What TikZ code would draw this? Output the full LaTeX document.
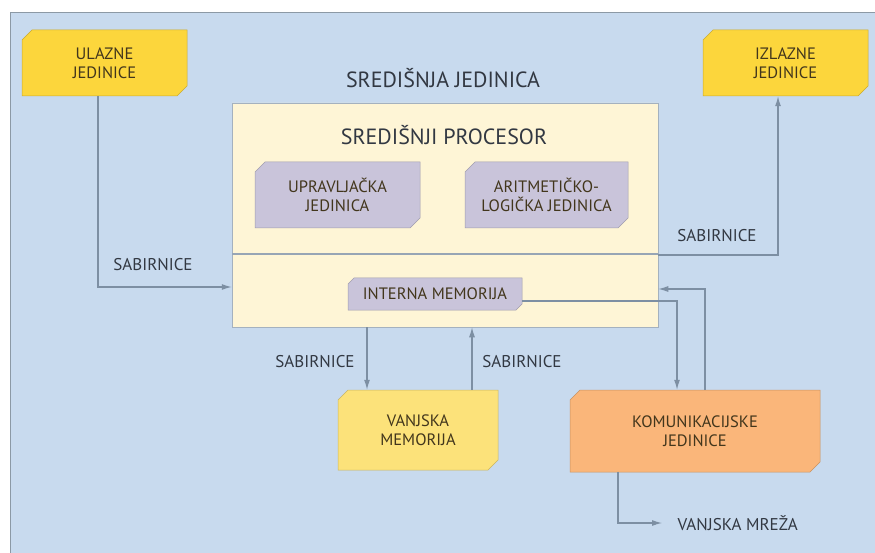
\documentclass[tikz,border=0pt]{standalone}
\usepackage{fontspec}
\setmainfont{PT Sans}
\usetikzlibrary{positioning,shapes.misc,arrows.meta}

\definecolor{bgblue}{RGB}{200,218,238}
\definecolor{bgedge}{RGB}{140,153,165}
\definecolor{ioyellow}{RGB}{252,214,60}
\definecolor{memyellow}{RGB}{252,226,122}
\definecolor{cpucream}{RGB}{254,245,214}
\definecolor{partlilac}{RGB}{201,196,218}
\definecolor{comorange}{RGB}{250,182,122}
\definecolor{busgrey}{RGB}{125,143,163}
\definecolor{labelgrey}{RGB}{50,56,66}
\definecolor{boxtext}{RGB}{66,54,28}

\begin{document}
\begin{tikzpicture}[
    x=1pt, y=-1pt,
    unit/.style={chamfered rectangle, chamfered rectangle corners={north west,south east},
      chamfered rectangle xsep=5pt, chamfered rectangle ysep=5pt,
      draw=#1!80!black, line width=0.5pt, fill=#1, inner sep=0pt,
      align=center, font=\fontsize{16.5}{18.5}\selectfont, text=boxtext},
    buslabel/.style={font=\fontsize{17}{19}\selectfont, text=labelgrey},
    bus/.style={draw=busgrey, line width=1.1pt, -{Latex[length=10pt,width=6pt]}},
    busline/.style={draw=busgrey, line width=1.1pt}
]

% background
\useasboundingbox (0,0) rectangle (875,553);
\fill[bgblue] (10,13) rectangle (875,553);
\draw[bgedge, line width=1pt] (10,553) -- (10,13) -- (875,13);

% input and output units
\node[unit=ioyellow, minimum width=165pt, minimum height=66pt] (ulazne) at (104.5,63) {ULAZNE\\JEDINICE};
\node[unit=ioyellow, minimum width=165pt, minimum height=66pt] (izlazne) at (785.5,63) {IZLAZNE\\JEDINICE};

% central unit
\node[buslabel, font=\fontsize{22}{24}\selectfont] (sredisnja) at (443,78) {SREDIŠNJA JEDINICA};
\node[unit=cpucream, draw=busgrey!70, chamfered rectangle xsep=8pt, chamfered rectangle ysep=8pt,
  minimum width=426pt, minimum height=224pt] (cpu) at (445,215) {};
\node[buslabel, font=\fontsize{22}{24}\selectfont] (procesor) at (444,135) {SREDIŠNJI PROCESOR};
\node[unit=partlilac, minimum width=165pt, minimum height=66pt] (upravljacka) at (337.5,195) {UPRAVLJAČKA\\JEDINICA};
\node[unit=partlilac, minimum width=163pt, minimum height=66pt] (alu) at (546.5,195) {ARITMETIČKO-\\LOGIČKA JEDINICA};
\draw[busline, draw=busgrey!80] (cpu.west |- 0,254) -- (cpu.east |- 0,254);
\node[unit=partlilac, chamfered rectangle xsep=3pt, chamfered rectangle ysep=3pt,
  minimum width=174pt, minimum height=32pt] (interna) at (435,294) {INTERNA MEMORIJA};

% external memory and communication units
\node[unit=memyellow, minimum width=160pt, minimum height=80pt] (vanjska) at (418,430) {VANJSKA\\MEMORIJA};
\node[unit=comorange, minimum width=250pt, minimum height=82pt] (komunikacijske) at (695,431) {KOMUNIKACIJSKE\\JEDINICE};
\node[buslabel, anchor=west] (mreza) at (674,523) {VANJSKA MREŽA};

% buses
\draw[bus] ([xshift=-6.5pt]ulazne.south) |- ([yshift=-72pt]cpu.west);
\node[buslabel] (sab1) at (153,265) {SABIRNICE};
\draw[bus] ([yshift=-40pt]cpu.east) -| ([xshift=-7.5pt]izlazne.south);
\node[buslabel] (sab2) at (717,236) {SABIRNICE};
\draw[bus] ([xshift=-51pt]vanjska.north |- cpu.south) -- ([xshift=-51pt]vanjska.north);
\node[buslabel] (sab3) at (315,362) {SABIRNICE};
\draw[bus] ([xshift=54pt]vanjska.north) -- ([xshift=54pt]vanjska.north |- cpu.south);
\node[buslabel] (sab4) at (522,362) {SABIRNICE};
\draw[bus] ([yshift=-7pt]interna.east) -| ([xshift=-18pt]komunikacijske.north);
\draw[bus] ([xshift=10pt]komunikacijske.north) |- ([yshift=-74pt]cpu.east);
\draw[bus] ([xshift=-77pt]komunikacijske.south) |- ([xshift=-12pt]mreza.west);

\end{tikzpicture}
\end{document}
